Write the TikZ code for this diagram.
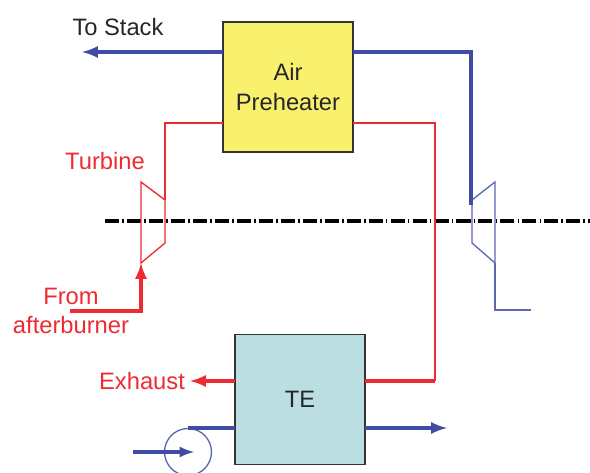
\documentclass[tikz,border=0pt]{standalone}
\usepackage{fontspec}
\setmainfont{Liberation Sans}
\definecolor{gasred}{HTML}{EE2A33}
\definecolor{airblue}{HTML}{3F4BA5}
\definecolor{heateryellow}{HTML}{F9F06E}
\definecolor{tecyan}{HTML}{BBDEE2}
\tikzset{
    unit/.style={draw=black!80, line width=0.9pt, minimum size=2.6cm, inner sep=0pt, font=\fontsize{13.5}{16}\selectfont, align=center, text=black!85},
    redlabel/.style={text=gasred, font=\fontsize{13.5}{16.5}\selectfont, align=center},
    thinred/.style={draw=gasred, line width=0.75pt},
    thickred/.style={draw=gasred, line width=2.1pt},
    thinblue/.style={draw=airblue!85, line width=0.75pt},
    thickblue/.style={draw=airblue, line width=2.1pt},
    shaft/.style={draw=black, line width=2.2pt, dash pattern=on 8pt off 1.75pt on 1pt off 1.75pt}
}
\begin{document}
\begin{tikzpicture}[scale=0.2]
    \useasboundingbox (0,0) rectangle (59,47.3);

    % Draw shaft first
    \coordinate (shaftL) at (10.5,25.2);
    \coordinate (shaftR) at (59,25.2);
    \draw[shaft] (shaftL) -- (shaftR);

    % Draw units
    \node[unit, fill=heateryellow] (air) at (28.8,38.6) {Air\\[1pt]Preheater};
    \node[unit, fill=tecyan] (te) at (30,7.35) {TE};

    % Draw turbine and compressor
    \coordinate (turbA) at (14.1,29.1);
    \coordinate (turbB) at (16.5,27.3);
    \coordinate (turbC) at (16.5,23);
    \coordinate (turbD) at (14.1,21);
    \draw[thinred] (turbA) -- (turbB) -- (turbC) -- (turbD) -- cycle;
    \coordinate (compA) at (47.2,27.3);
    \coordinate (compB) at (49.5,29.1);
    \coordinate (compC) at (49.5,21);
    \coordinate (compD) at (47.2,23);
    \draw[thinblue] (compA) -- (compB) -- (compC) -- (compD) -- cycle;

    % Draw air side
    \coordinate (stack) at (8.2,42.1);
    \coordinate (airOutL) at (22.3,42.1);
    \coordinate (airOutR) at (35.3,42.1);
    \coordinate (airCorner) at (47.1,42.1);
    \coordinate (airDown) at (47.1,26.8);
    \coordinate (compOut) at (49.5,16.3);
    \coordinate (compEnd) at (53.1,16.3);
    \draw[thickblue, -latex] (airOutL) -- (stack);
    \draw[thickblue] (airOutR) -- (airCorner) -- (airDown);
    \draw[thinblue] (compC) -- (compOut) -- (compEnd);

    % Draw hot gas side
    \coordinate (gasL) at (22.3,35);
    \coordinate (gasR) at (35.3,35);
    \coordinate (gasCornerL) at (16.5,35);
    \coordinate (gasCornerR) at (43.5,35);
    \coordinate (gasLow) at (43.5,9.2);
    \coordinate (teHot) at (36.5,9.2);
    \coordinate (teExL) at (23.5,9.2);
    \coordinate (exhaust) at (19,9.2);
    \coordinate (burnerS) at (7,16.2);
    \coordinate (burnerC) at (14.1,16.2);
    \draw[thinred] (gasL) -- (gasCornerL) -- (turbB);
    \draw[thinred] (gasR) -- (gasCornerR) -- (gasLow);
    \draw[thickred] (gasLow) -- (teHot);
    \draw[thickred, -latex] (teExL) -- (exhaust);
    \draw[thickred, -latex] (burnerS) -- (burnerC) -- (turbD);

    % Draw pump and water lines
    \coordinate (pumpC) at (18.8,2.1);
    \coordinate (pumpT) at (18.8,4.5);
    \coordinate (teInL) at (23.5,4.5);
    \coordinate (teOutR) at (36.5,4.5);
    \coordinate (teOutE) at (44.7,4.5);
    \coordinate (feedS) at (13.3,2.1);
    \coordinate (feedE) at (19.4,2.1);
    \draw[thinblue] (pumpC) circle (2.35);
    \draw[thickblue] (teInL) -- (pumpT);
    \draw[thickblue, -latex] (teOutR) -- (teOutE);
    \draw[draw=airblue, line width=1.8pt, -latex] (feedS) -- (feedE);

    % Add labels
    \node[text=black!85, font=\fontsize{13.5}{16}\selectfont] (stacklabel) at (11.8,44.6) {To Stack};
    \node[redlabel] (turblabel) at (10.5,31.2) {Turbine};
    \node[redlabel] (burnerlabel) at (7.1,16.2) {From\\afterburner};
    \node[redlabel] (exlabel) at (14.2,9.2) {Exhaust};
\end{tikzpicture}
\end{document}
